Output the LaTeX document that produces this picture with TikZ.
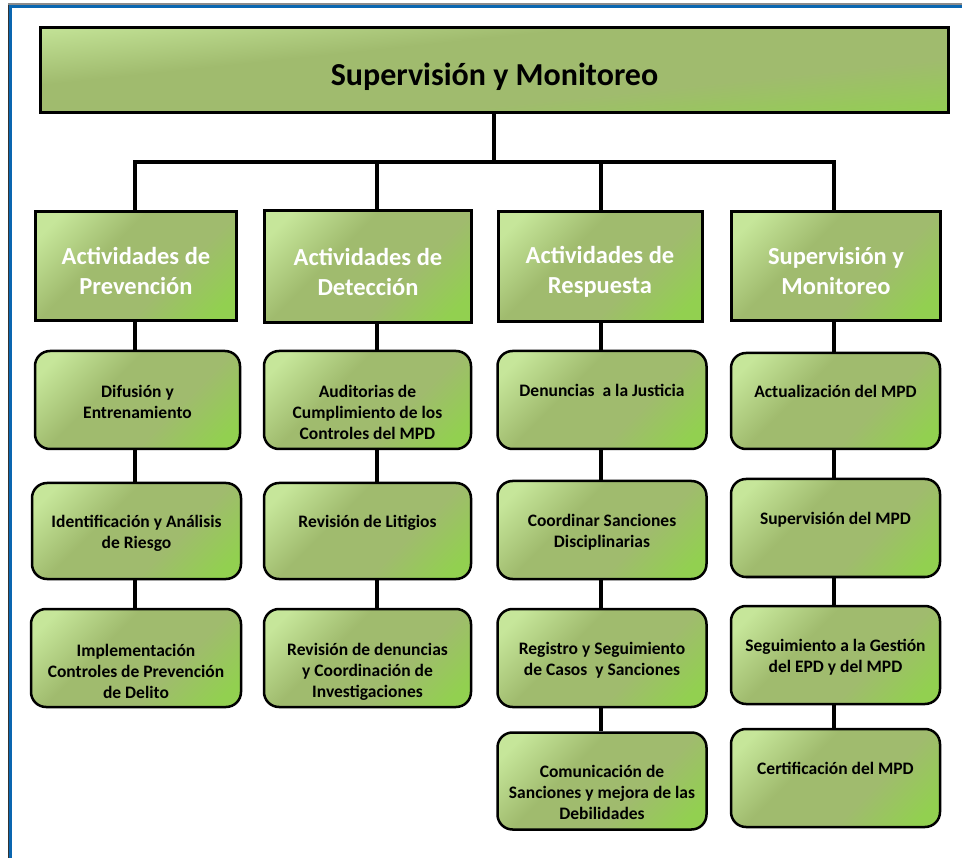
\documentclass[tikz,border=0pt]{standalone}
\usepackage{fontspec}
\setmainfont{Carlito}
\usetikzlibrary{backgrounds}
\definecolor{gl}{HTML}{C6E69A}
\definecolor{gm}{HTML}{A0BB6E}
\definecolor{gd}{HTML}{92D050}
\definecolor{frameblue}{HTML}{0A66B0}
\pgfdeclarehorizontalshading{boxgrad}{100bp}{color(0bp)=(gl); color(21bp)=(gl); color(40bp)=(gm); color(61bp)=(gm); color(79bp)=(gd); color(100bp)=(gd)}
\newcommand\mystrut[1]{\rule{0pt}{#1pt}}
\begin{document}
\begin{tikzpicture}[x=1pt,y=-1pt,
  grad/.style={shading=boxgrad, shading angle=-45},
  titlebox/.style={draw=black, line width=3pt, shading=boxgrad, shading angle=-84,
    minimum width=908pt, minimum height=85pt, inner sep=0pt,
    font=\fontsize{32}{36}\selectfont\bfseries},
  headbox/.style={draw=black, line width=3pt, grad, text=white, align=center, inner sep=0pt,
    font=\fontsize{24.5}{30}\selectfont\bfseries},
  itembox/.style={draw=black, line width=2.5pt, rounded corners=15pt, grad, align=center, inner sep=0pt,
    font=\fontsize{17.5}{21}\selectfont\bfseries},
  conn/.style={draw=black, line width=3.2pt}]
\useasboundingbox (0,0) rectangle (962,858);
% title
\node[titlebox] (T) at (494.5,70) {\mystrut{37}Supervisión y Monitoreo};

% column x positions
\coordinate (x1) at (135,0);
\coordinate (x2) at (377,0);
\coordinate (x3) at (601,0);
\coordinate (x4) at (834,0);
\coordinate (bus) at (0,162);
\coordinate (bl) at (x1 |- bus);
\coordinate (br) at (x4 |- bus);
\coordinate (bt) at (494,162);

% headers
\node[headbox, minimum width=201pt, minimum height=109pt] (h1) at (136,266) {\mystrut{27}Actividades de\\Prevención};
\node[headbox, minimum width=207pt, minimum height=112pt] (h2) at (368,267) {\mystrut{27}Actividades de\\Detección};
\node[headbox, minimum width=204pt, minimum height=110pt] (h3) at (600,266.5) {\mystrut{27}Actividades de\\Respuesta};
\node[headbox, minimum width=209pt, minimum height=109pt] (h4) at (836,266) {\mystrut{27}Supervisión y\\Monitoreo};

% column 1
\node[itembox, minimum width=205pt, minimum height=98pt] (a1) at (137.5,400) {\mystrut{16.5}Difusión y\\Entrenamiento};
\node[itembox, minimum width=209pt, minimum height=96pt] (a2) at (136.5,531) {\mystrut{16.5}Identificación y Análisis\\de Riesgo};
\node[itembox, minimum width=210pt, minimum height=98pt] (a3) at (136,658) {\mystrut{39}Implementación\\Controles de Prevención\\de Delito};

% column 2
\node[itembox, minimum width=207pt, minimum height=98pt] (b1) at (367.5,400) {\mystrut{37}Auditorias de\\Cumplimiento de los\\Controles del MPD};
\node[itembox, minimum width=207pt, minimum height=96pt] (b2) at (367.5,531) {Revisión de Litigios\\[-1pt]};
\node[itembox, minimum width=207pt, minimum height=98pt] (b3) at (367.5,658) {\mystrut{39}Revisión de denuncias\\y Coordinación de\\Investigaciones};

% column 3
\node[itembox, minimum width=209pt, minimum height=98pt] (c1) at (602,400) {Denuncias\ \ a la Justicia\\[-1pt]};
\node[itembox, minimum width=209pt, minimum height=98pt] (c2) at (602,530) {\mystrut{16.5}Coordinar Sanciones\\Disciplinarias};
\node[itembox, minimum width=209pt, minimum height=98pt] (c3) at (602,658) {\mystrut{16.5}Registro y Seguimiento\\de Casos\ \ y Sanciones};
\node[itembox, minimum width=209pt, minimum height=97pt] (c4) at (602,781) {\mystrut{35}Comunicación de\\Sanciones y mejora de las\\Debilidades};

% column 4
\node[itembox, minimum width=209pt, minimum height=96pt] (d1) at (835.5,401) {Actualización del MPD\\[-1pt]};
\node[itembox, minimum width=209pt, minimum height=98pt] (d2) at (835.5,528) {Supervisión del MPD\\[-1pt]};
\node[itembox, minimum width=209pt, minimum height=98pt] (d3) at (835.5,655) {\mystrut{16.5}Seguimiento a la Gestión\\del EPD y del MPD};
\node[itembox, minimum width=209pt, minimum height=98pt] (d4) at (835.5,778) {Certificación del MPD\\[-1pt]};

% connectors and frame
\begin{scope}[on background layer]
  \fill[white] (0,0) rectangle (962,858);
  \fill[black!45] (8,3) rectangle (962,5);
  \fill[frameblue] (8,5) rectangle (962,8.5);
  \fill[black!80] (7.5,5) rectangle (9,858);
  \fill[frameblue] (9,5) rectangle (12,858);
  \draw[conn] (T.south -| bt) -- (bt);
  \draw[conn, line cap=rect] (bl) -- (br);
  \draw[conn] (bl) -- (h1.north -| x1);
  \draw[conn] (x2 |- bus) -- (h2.north -| x2);
  \draw[conn] (x3 |- bus) -- (h3.north -| x3);
  \draw[conn] (br) -- (h4.north -| x4);
  \draw[conn] (h1.south -| x1) -- (a1.north -| x1);
  \draw[conn] (a1.south -| x1) -- (a2.north -| x1);
  \draw[conn] (a2.south -| x1) -- (a3.north -| x1);
  \draw[conn] (h2.south -| x2) -- (b1.north -| x2);
  \draw[conn] (b1.south -| x2) -- (b2.north -| x2);
  \draw[conn] (b2.south -| x2) -- (b3.north -| x2);
  \draw[conn] (h3.south -| x3) -- (c1.north -| x3);
  \draw[conn] (c1.south -| x3) -- (c2.north -| x3);
  \draw[conn] (c2.south -| x3) -- (c3.north -| x3);
  \draw[conn] (c3.south -| x3) -- (c4.north -| x3);
  \draw[conn] (h4.south -| x4) -- (d1.north -| x4);
  \draw[conn] (d1.south -| x4) -- (d2.north -| x4);
  \draw[conn] (d2.south -| x4) -- (d3.north -| x4);
  \draw[conn] (d3.south -| x4) -- (d4.north -| x4);
\end{scope}
\end{tikzpicture}
\end{document}
